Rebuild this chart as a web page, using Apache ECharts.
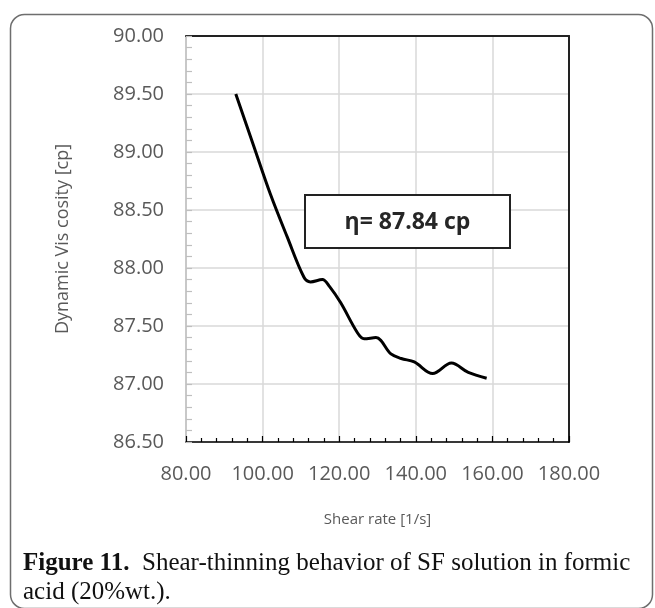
<!DOCTYPE html>
<html>
<head>
<meta charset="utf-8">
<script src="https://cdn.jsdelivr.net/npm/echarts@6/dist/echarts.min.js"></script>
<style>
  html, body { margin: 0; padding: 0; background: #fff; }
  #chart { width: 655px; height: 608px; }
</style>
</head>
<body>
<div id="chart"></div>
<script>
// values
const shearRate = [93.0, 97.7, 102.0, 106.4, 110.8, 112.5, 115.6, 117.5, 120.4, 124.8, 126.5, 129.6, 133.5, 136.2, 139.6, 144.4, 149.3, 153.7, 158.5];
const viscosity = [89.50, 89.05, 88.64, 88.27, 87.92, 87.88, 87.90, 87.84, 87.70, 87.44, 87.39, 87.40, 87.26, 87.22, 87.19, 87.09, 87.18, 87.10, 87.05];

const xRange = [80, 180, 20];
const yRange = [86.5, 90, 0.5];

const axisFont = 'Open Sans, sans-serif';
const labelGray = '#595959';
const gridGray = '#d9d9d9';

const chart = echarts.init(document.getElementById('chart'), null, { renderer: 'canvas' });

const option = {
  animation: false,
  backgroundColor: '#fff',
  grid: { left: 186, top: 36, right: 86, bottom: 166, containLabel: false },
  title: {
    left: 18,
    top: 544,
    text: '{b|Figure 11.}  Shear-thinning behavior of SF solution in formic\nacid (20%wt.).',
    textStyle: {
      fontFamily: 'Liberation Serif, serif',
      fontSize: 25,
      fontWeight: 'normal',
      color: '#111',
      lineHeight: 29,
      rich: {
        b: { fontFamily: 'Liberation Serif, serif', fontSize: 25, fontWeight: 'bold', color: '#111' }
      }
    }
  },
  xAxis: [
    {
      type: 'value',
      min: xRange[0], max: xRange[1], interval: xRange[2],
      name: 'Shear rate [1/s]',
      nameLocation: 'middle',
      nameGap: 70,
      nameTextStyle: { fontFamily: axisFont, fontSize: 15, color: labelGray },
      axisLine: { lineStyle: { color: '#000', width: 1.5 } },
      axisTick: { inside: true, length: 6, lineStyle: { color: '#000', width: 1.2 } },
      minorTick: { show: true, splitNumber: 5, length: 4, lineStyle: { color: '#000', width: 1.2 } },
      axisLabel: {
        margin: 22,
        fontFamily: axisFont, fontSize: 20, color: labelGray,
        formatter: v => v.toFixed(2)
      },
      splitLine: { show: true, lineStyle: { color: gridGray, width: 1.5 } }
    },
    {
      type: 'value', position: 'top',
      min: xRange[0], max: xRange[1], interval: xRange[2],
      axisLine: { show: true, lineStyle: { color: '#222', width: 2 } },
      axisTick: { show: false }, axisLabel: { show: false }, splitLine: { show: false }
    }
  ],
  yAxis: [
    {
      type: 'value',
      min: yRange[0], max: yRange[1], interval: yRange[2],
      name: 'Dynamic Vis cosity [cp]',
      nameLocation: 'middle',
      nameGap: 114,
      nameTextStyle: { fontFamily: axisFont, fontSize: 18, color: labelGray },
      axisLine: { show: true, lineStyle: { color: '#bfbfbf', width: 1.5 } },
      axisTick: { inside: true, length: 6, lineStyle: { color: '#bfbfbf', width: 1.2 } },
      minorTick: { show: true, splitNumber: 5, length: 6, lineStyle: { color: '#bfbfbf', width: 1.2 } },
      axisLabel: {
        margin: 22,
        fontFamily: axisFont, fontSize: 20, color: labelGray,
        formatter: v => v.toFixed(2)
      },
      splitLine: { show: true, lineStyle: { color: gridGray, width: 1.5 } }
    },
    {
      type: 'value', position: 'right',
      min: yRange[0], max: yRange[1], interval: yRange[2],
      axisLine: { show: true, lineStyle: { color: '#222', width: 2 } },
      axisTick: { show: false }, axisLabel: { show: false }, splitLine: { show: false }
    }
  ],
  series: [
    {
      type: 'line',
      xAxisIndex: 0,
      yAxisIndex: 0,
      data: shearRate.map((x, i) => [x, viscosity[i]]),
      smooth: 0.35,
      showSymbol: false,
      lineStyle: { color: '#000', width: 3 }
    }
  ],
  graphic: [
    {
      type: 'rect',
      left: 8, top: 12,
      shape: { width: 642, height: 594, r: 14 },
      style: { fill: 'none', stroke: '#6e6e6e', lineWidth: 1.5 },
      silent: true,
      z: -1
    },
    {
      type: 'group',
      left: 304, top: 194,
      z: 100,
      children: [
        {
          type: 'rect',
          z: 100,
          shape: { width: 205, height: 53 },
          style: { fill: '#fff', stroke: '#222', lineWidth: 2 }
        },
        {
          type: 'text',
          z: 101,
          x: 102.5, y: 27,
          style: {
            text: 'η= 87.84 cp',
            fontFamily: 'Open Sans, sans-serif',
            fontSize: 23,
            fontWeight: 'bold',
            fill: '#262626',
            align: 'center',
            verticalAlign: 'middle'
          }
        }
      ]
    }
  ]
};

chart.setOption(option);
</script>
</body>
</html>
